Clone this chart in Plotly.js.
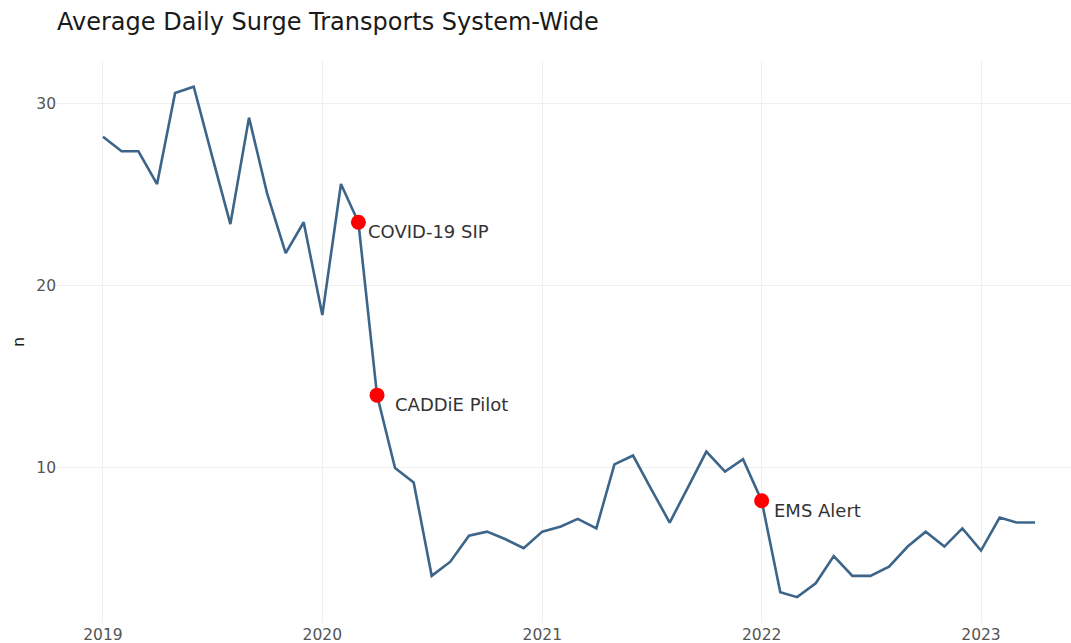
<!DOCTYPE html>
<html>
<head>
<meta charset="utf-8">
<script src="https://cdn.plot.ly/plotly-3.0.1.min.js"></script>
<style>html,body{margin:0;padding:0;background:#fff;}#chart{width:1071px;height:643px;}</style>
</head>
<body>
<div id="chart"></div>
<script>
// Monthly data, Jan 2019 – Apr 2023
const months = [
  "2019-01-01","2019-02-01","2019-03-01","2019-04-01","2019-05-01","2019-06-01",
  "2019-07-01","2019-08-01","2019-09-01","2019-10-01","2019-11-01","2019-12-01",
  "2020-01-01","2020-02-01","2020-03-01","2020-04-01","2020-05-01","2020-06-01",
  "2020-07-01","2020-08-01","2020-09-01","2020-10-01","2020-11-01","2020-12-01",
  "2021-01-01","2021-02-01","2021-03-01","2021-04-01","2021-05-01","2021-06-01",
  "2021-07-01","2021-08-01","2021-09-01","2021-10-01","2021-11-01","2021-12-01",
  "2022-01-01","2022-02-01","2022-03-01","2022-04-01","2022-05-01","2022-06-01",
  "2022-07-01","2022-08-01","2022-09-01","2022-10-01","2022-11-01","2022-12-01",
  "2023-01-01","2023-02-01","2023-03-01","2023-04-01"
];
const avgDaily = [
  28.2, 27.4, 27.4, 25.6, 30.6, 30.95, 27.2, 23.4, 29.25, 25.1, 21.8, 23.5,
  18.4, 25.6, 23.5, 14.0, 10.0, 9.2, 4.07, 4.85, 6.28, 6.5, 6.08, 5.59,
  6.5, 6.78, 7.2, 6.68, 10.2, 10.68, 8.85, 7.0, 8.97, 10.9, 9.8, 10.48,
  8.2, 3.17, 2.9, 3.66, 5.16, 4.07, 4.07, 4.58, 5.68, 6.5, 5.68, 6.68,
  5.46, 7.27, 7.0, 7.0
];
const eventDates = ["2020-03-01", "2020-04-01", "2022-01-01"];
const eventValues = [23.5, 14.0, 8.2];
const eventLabels = ["COVID-19 SIP", "CADDiE Pilot", "EMS Alert"];
const yTicks = [10, 20, 30];

const FONT = "DejaVu Sans, Verdana, sans-serif";
const labelShiftX = [8, 16, 10];

const traces = [
  {
    x: months, y: avgDaily, type: "scatter", mode: "lines",
    line: {color: "#3C6589", width: 2.6},
    hoverinfo: "x+y", showlegend: false
  },
  {
    x: eventDates, y: eventValues, type: "scatter", mode: "markers",
    marker: {color: "#FF0000", size: 15},
    text: eventLabels, hoverinfo: "text", showlegend: false
  }
];

const annotations = eventDates.map((d, i) => ({
  x: d, y: eventValues[i], xref: "x", yref: "y",
  text: eventLabels[i], showarrow: false,
  xanchor: "left", yanchor: "top", xshift: labelShiftX[i], yshift: 3,
  font: {family: FONT, size: 18, color: "#333333"}
}));

const layout = {
  width: 1071, height: 643,
  margin: {l: 57, r: 0, t: 61, b: 20},
  paper_bgcolor: "#ffffff", plot_bgcolor: "#ffffff",
  font: {family: FONT, color: "#4d4d4d"},
  title: {
    text: "Average Daily Surge Transports System-Wide",
    font: {family: FONT, size: 24, color: "#1a1a1a"},
    xref: "container", yref: "container",
    x: 57/1071, xanchor: "left", y: 1 - 22/643, yanchor: "middle"
  },
  xaxis: {
    type: "date",
    range: ["2018-10-16 12:00", "2023-05-30 18:00"],
    tickvals: ["2019-01-01","2020-01-01","2021-01-01","2022-01-01","2023-01-01"],
    ticktext: ["2019","2020","2021","2022","2023"],
    showgrid: true, gridcolor: "#efefef", gridwidth: 1,
    zeroline: false, showline: false, ticks: "",
    tickfont: {family: FONT, size: 15.5, color: "#555555"},
    fixedrange: true
  },
  yaxis: {
    range: [1.48, 32.36],
    tickvals: yTicks,
    ticktext: yTicks.map(String),
    showgrid: true, gridcolor: "#efefef", gridwidth: 1,
    zeroline: false, showline: false, ticks: "",
    tickfont: {family: FONT, size: 15.5, color: "#555555"},
    title: {text: "n", font: {family: FONT, size: 16, color: "#1a1a1a"}, standoff: 7},
    fixedrange: true
  },
  annotations: annotations,
  showlegend: false
};

Plotly.newPlot("chart", traces, layout, {displayModeBar: false, staticPlot: true});
</script>
</body>
</html>
